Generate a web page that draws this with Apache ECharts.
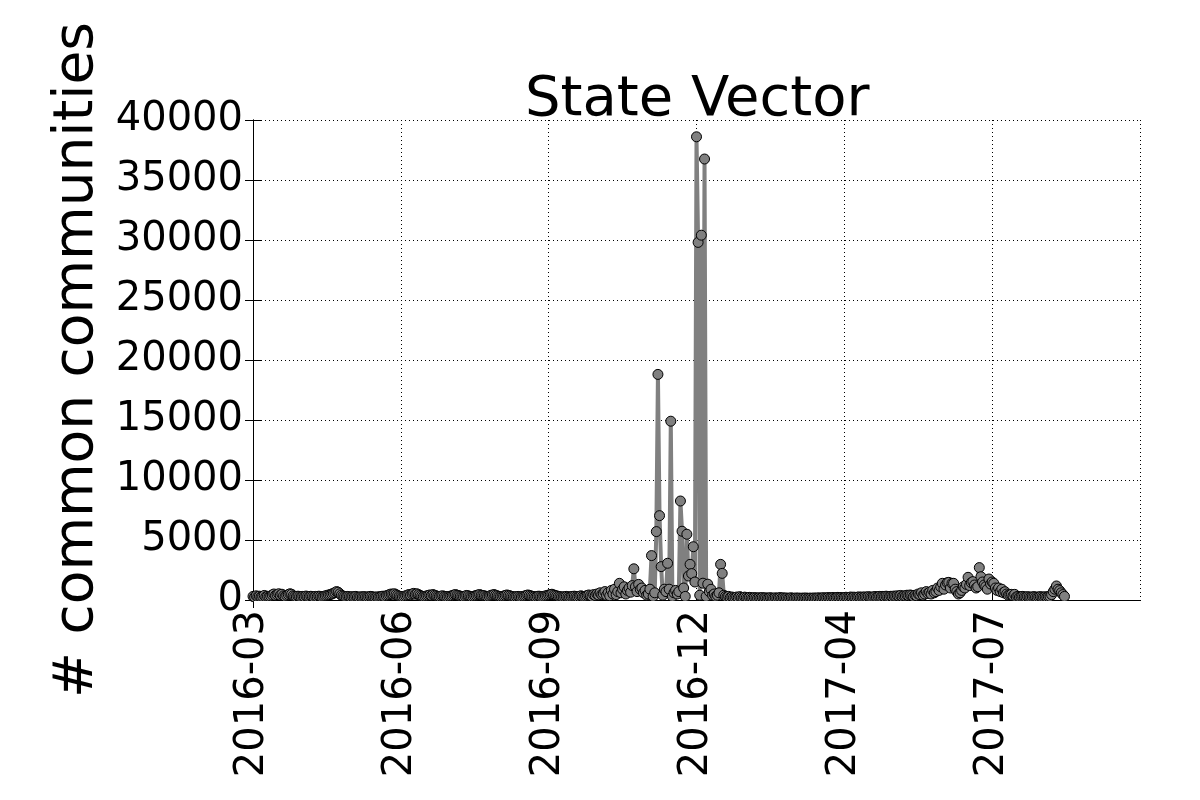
<!DOCTYPE html>
<html>
<head>
<meta charset="utf-8">
<title>State Vector</title>
<script src="https://cdn.jsdelivr.net/npm/echarts@6/dist/echarts.min.js"></script>
<style>
	html, body { margin: 0; padding: 0; background: #fff; }
	#chart-one { width: 1200px; height: 800px; }
</style>
</head>
<body>
<div id="chart-one"></div>
<script>
// x values are days counted from 2016-03-01, one value per day
var tickLabels = ['2016-03', '2016-06', '2016-09', '2016-12', '2017-04', '2017-07'];
var tickStep = 92;
var lastDay = 552;

// 2016-03-01 .. 2016-10-06 (days 0-219), quiet period
var quiet2016 = [
	300, 250, 350, 280, 320, 260, 300, 380, 270, 310,
	290, 340, 420, 500, 380, 450, 520, 400, 480, 350,
	300, 380, 450, 520, 480, 350, 300, 260, 320, 280,
	250, 300, 270, 330, 290, 260, 310, 280, 240, 300,
	270, 320, 290, 250, 300, 340, 380, 420, 450, 500,
	560, 620, 700, 650, 520, 400, 330, 280, 250, 300,
	270, 240, 280, 260, 300, 250, 230, 270, 250, 280,
	260, 240, 270, 300, 280, 250, 230, 260, 240, 280,
	300, 320, 280, 350, 400, 450, 500, 480, 520, 450,
	380, 320, 290, 260, 300, 350, 400, 450, 420, 500,
	550, 480, 520, 450, 380, 320, 280, 300, 340, 380,
	420, 380, 450, 400, 350, 300, 280, 320, 350, 300,
	280, 260, 300, 330, 360, 420, 450, 400, 360, 320,
	300, 280, 330, 380, 350, 300, 270, 300, 340, 380,
	420, 450, 400, 380, 350, 300, 280, 320, 380, 420,
	450, 400, 350, 300, 280, 300, 330, 380, 420, 380,
	350, 300, 270, 250, 280, 300, 270, 250, 300, 330,
	380, 420, 380, 340, 300, 280, 260, 300, 320, 280,
	260, 300, 340, 380, 420, 450, 480, 420, 380, 340,
	300, 280, 260, 250, 280, 300, 270, 250, 280, 300,
	320, 280, 260, 300, 350, 300, 280, 320, 380, 420,
	350, 300, 450, 380, 500, 420, 600, 450, 520, 700
];

// days 220-300, the autumn 2016 burst
var burst2016 = [
	400, 600, 350, 800, 500, 900, 450, 700, 1390, 600,
	900, 1100, 500, 800, 1000, 650, 1200, 2600, 1100, 700,
	1300, 900, 1000, 600, 800, 400, 500, 900, 3700, 300,
	600, 5700, 18800, 7030, 2780, 400, 900, 700, 3060, 900,
	14900, 300, 600, 800, 500, 700, 8250, 5730, 1000, 300,
	5480, 2000, 2970, 2200, 4440, 1500, 38600, 29800, 400, 30400,
	1400, 36750, 300, 1320, 700, 890, 400, 500, 300, 400,
	600, 2970, 2220, 400, 300, 250, 300, 200, 250, 200,
	200
];

// days 301-410, winter lull
var quiet2017 = [
	250, 200, 280, 220, 180, 240, 200, 170, 220, 190,
	160, 200, 180, 150, 190, 170, 200, 160, 180, 150,
	170, 190, 160, 140, 180, 150, 170, 200, 160, 180,
	150, 170, 140, 160, 180, 150, 140, 170, 150, 160,
	140, 160, 150, 170, 140, 150, 160, 140, 170, 150,
	160, 180, 150, 170, 190, 160, 180, 200, 170, 190,
	210, 180, 200, 220, 190, 210, 180, 200, 230, 200,
	220, 250, 210, 240, 200, 230, 260, 220, 250, 230,
	260, 230, 280, 250, 220, 260, 290, 250, 280, 300,
	260, 300, 280, 320, 290, 260, 310, 280, 330, 300,
	350, 320, 380, 300, 350, 330, 400, 360, 420, 380
];

// days 411-505, summer 2017
var burst2017 = [
	300, 400, 350, 500, 450, 600, 400, 500, 700, 550,
	640, 500, 800, 600, 700, 1000, 800, 1100, 1390, 900,
	1250, 1440, 1470, 1000, 1390, 1390, 900, 700, 500, 600,
	800, 1100, 1000, 1300, 1890, 1200, 1440, 1530, 1250, 1000,
	1110, 2700, 1940, 1500, 1250, 1110, 900, 1750, 1330, 1500,
	1390, 1000, 800, 1000, 700, 900, 600, 690, 500, 400,
	450, 470, 350, 470, 250, 300, 250, 280, 300, 260,
	240, 280, 250, 230, 260, 280, 250, 230, 260, 280,
	250, 240, 270, 250, 280, 300, 450, 700, 900, 1170,
	900, 780, 600, 450, 300
];

var counts = [].concat(quiet2016, burst2016, quiet2017, burst2017);

var StateChart = function(){
	this.mychart = echarts.init(document.getElementById('chart-one'));

	this.initChart = function(values){
		var data = values.map(function(v, i){ return [i, v]; });
		var font = 'DejaVu Sans';

		var xBase = {
			'type': 'value',
			'min': 0,
			'max': lastDay,
			'interval': tickStep,
			'axisLine': { 'show': true, 'lineStyle': { 'color': '#000', 'width': 1 } },
			'axisTick': { 'show': true, 'inside': true, 'length': 8, 'lineStyle': { 'color': '#000' } }
		};
		var yBase = {
			'type': 'value',
			'min': 0,
			'max': 40000,
			'interval': 5000,
			'axisLine': { 'show': true, 'lineStyle': { 'color': '#000', 'width': 1 } },
			'axisTick': { 'show': true, 'inside': true, 'length': 8, 'lineStyle': { 'color': '#000' } }
		};

		var option = {
			'animation': false,
			'backgroundColor': '#fff',
			'title': {
				'text': 'State Vector',
				'left': 520,
				'top': 67,
				'textStyle': {
					'fontFamily': font,
					'fontSize': 56,
					'fontWeight': 'normal',
					'color': '#000'
				}
			},
			'grid': { 'left': 253, 'right': 60, 'top': 120, 'bottom': 200 },
			// markers are clipped at the bottom spine, as in the source plot
			'graphic': [{
				'type': 'rect',
				'z': 100,
				'shape': { 'x': 254, 'y': 601, 'width': 892, 'height': 7 },
				'style': { 'fill': '#fff' }
			}],
			'xAxis': [
				Object.assign({}, xBase, {
					'position': 'bottom',
					'axisLabel': {
						'rotate': 90,
						'margin': 10,
						'fontFamily': font,
						'fontSize': 40,
						'color': '#000',
						'showMaxLabel': false,
						'formatter': function(v){
							return tickLabels[Math.round(v / tickStep)] || '';
						}
					},
					'splitLine': { 'show': true, 'lineStyle': { 'color': '#000', 'width': 1, 'type': [1, 3] } }
				}),
				Object.assign({}, xBase, {
					'position': 'top',
					'axisLabel': { 'show': false },
					'splitLine': { 'show': false }
				})
			],
			'yAxis': [
				Object.assign({}, yBase, {
					'position': 'left',
					'name': '# common communities',
					'nameLocation': 'middle',
					'nameGap': 130,
					'nameTextStyle': { 'fontFamily': font, 'fontSize': 55, 'color': '#000' },
					'axisLabel': {
						'margin': 10,
						'fontFamily': font,
						'fontSize': 40,
						'color': '#000',
						'formatter': function(v){ return String(v); }
					},
					'splitLine': { 'show': true, 'lineStyle': { 'color': '#000', 'width': 1, 'type': [1, 3] } }
				}),
				Object.assign({}, yBase, {
					'position': 'right',
					'axisLabel': { 'show': false },
					'splitLine': { 'show': false }
				})
			],
			'series': [{
				'type': 'line',
				'xAxisIndex': 0,
				'yAxisIndex': 0,
				'data': data,
				'symbol': 'circle',
				'symbolSize': 10,
				'showAllSymbol': true,
				'clip': true,
				'lineStyle': { 'color': '#808080', 'width': 4 },
				'itemStyle': { 'color': '#808080', 'borderColor': '#000', 'borderWidth': 1 }
			}]
		};

		this.mychart.setOption(option);
	};
};

var chart = new StateChart();
chart.initChart(counts);
</script>
</body>
</html>
